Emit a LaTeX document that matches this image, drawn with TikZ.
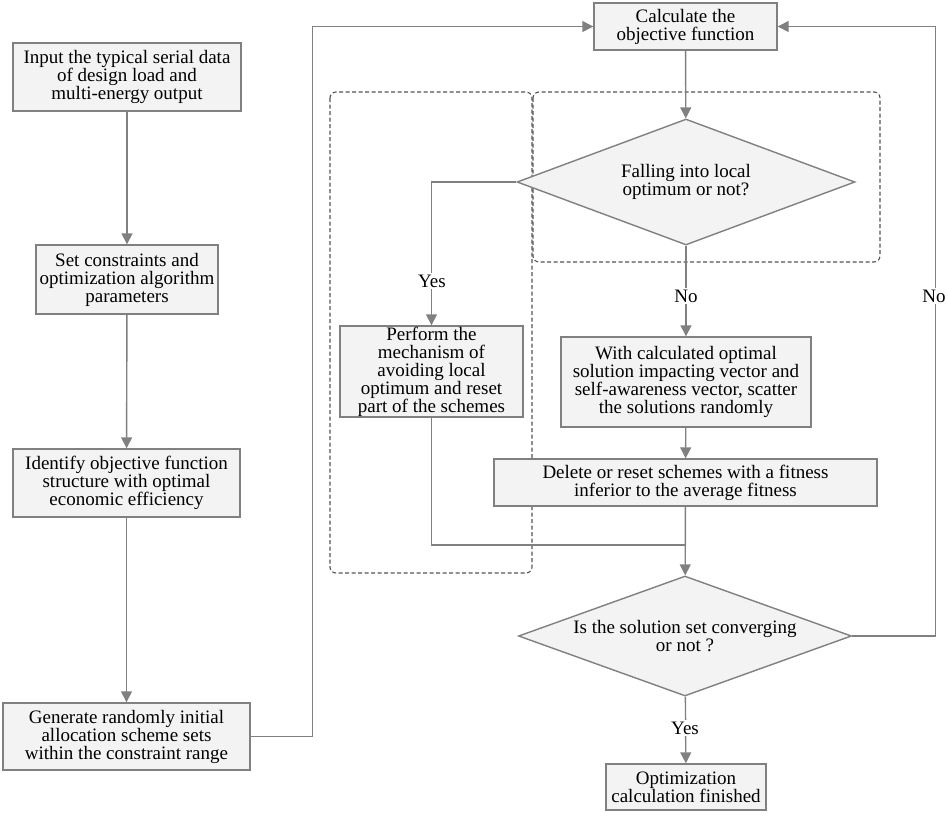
\documentclass[tikz,border=0pt]{standalone}
\usepackage{fontspec}
\setmainfont{Liberation Serif}
\usetikzlibrary{shapes.geometric,arrows.meta}
\definecolor{linegray}{RGB}{128,128,128}
\definecolor{boxgray}{RGB}{243,243,243}
\definecolor{dashgray}{RGB}{85,85,85}

\begin{document}
\begin{tikzpicture}[x=1pt,y=-1pt,
  font=\fontsize{19}{18}\selectfont,
  box/.style={draw=linegray,fill=boxgray,line width=1.4pt,align=center,inner sep=0pt},
  decision/.style={diamond,draw=linegray,fill=boxgray,line width=1.4pt,inner sep=0pt},
  flow/.style={draw=linegray,line width=1.4pt},
  arr/.style={flow,-{Triangle[width=11pt,length=11pt]}},
  group/.style={draw=dashgray,line width=1.1pt,dash pattern=on 4pt off 2.5pt,rounded corners=6pt},
  lbl/.style={fill=white,inner sep=2pt}]
\useasboundingbox (0,0) rectangle (948,815);
% draw dashed groups
\draw[group] (330,92) rectangle (532,573);
\draw[group] (533,92) rectangle (880,262);
% draw left column
\node[box,minimum width=228pt,minimum height=68pt] (input) at (127,77)
  {Input the typical serial data\\of design load and\\multi-energy output};
\node[box,minimum width=182pt,minimum height=69pt] (constr) at (127,279.5)
  {Set constraints and\\optimization algorithm\\parameters};
\node[box,minimum width=227pt,minimum height=68pt] (ident) at (126.5,483)
  {Identify objective function\\structure with optimal\\economic efficiency};
\node[box,minimum width=247pt,minimum height=67pt] (gen) at (126.5,736.5)
  {Generate randomly initial\\allocation scheme sets\\within the constraint range};
% draw right column
\node[box,minimum width=183pt,minimum height=47pt] (calc) at (685.5,26.5)
  {Calculate the\\objective function};
\node[decision,minimum width=338pt,minimum height=126pt] (fall) at (686,182) {};
\node[align=center] (falltext) at (fall) {Falling into local\\optimum or not?};
\node[box,minimum width=183pt,minimum height=91pt] (perform) at (431.5,371.5)
  {Perform the\\mechanism of\\avoiding local\\optimum and reset\\part of the schemes};
\node[box,minimum width=250pt,minimum height=90pt] (scatter) at (686,382)
  {With calculated optimal\\solution impacting vector and\\self-awareness vector, scatter\\the solutions randomly};
\node[box,minimum width=383pt,minimum height=47pt] (delete) at (685.5,482.5)
  {Delete or reset schemes with a fitness\\inferior to the average fitness};
\node[decision,minimum width=333pt,minimum height=120pt] (conv) at (685,636) {};
\node[align=center] (convtext) at (conv) {Is the solution set converging\\or not ?};
\node[box,minimum width=160pt,minimum height=46pt] (fin) at (686,787)
  {Optimization\\calculation finished};
\coordinate (join) at (686,545);
% draw connectors
\draw[arr] (input) -- (constr);
\draw[arr] (constr) -- (ident);
\draw[arr] (ident) -- (gen);
\draw[arr] (gen.east) -- ++(62,0) |- (calc.west);
\draw[arr] (calc) -- (fall);
\draw[arr] (fall.west) -| (perform.north);
\draw[arr] (fall) -- (scatter);
\draw[arr] (scatter) -- (delete);
\draw[arr] (delete) -- (conv);
\draw[flow] (perform.south) |- (join);
\draw[arr] (conv.east) -- ++(83,0) |- (calc.east);
\draw[arr] (conv) -- (fin);
% draw branch labels
\node[lbl] (yesleft) at (432,281) {Yes};
\node[lbl] (nofall) at (686,296) {No};
\node[lbl] (noright) at (934,296) {No};
\node[lbl] (yesconv) at (685,728) {Yes};
\end{tikzpicture}
\end{document}
